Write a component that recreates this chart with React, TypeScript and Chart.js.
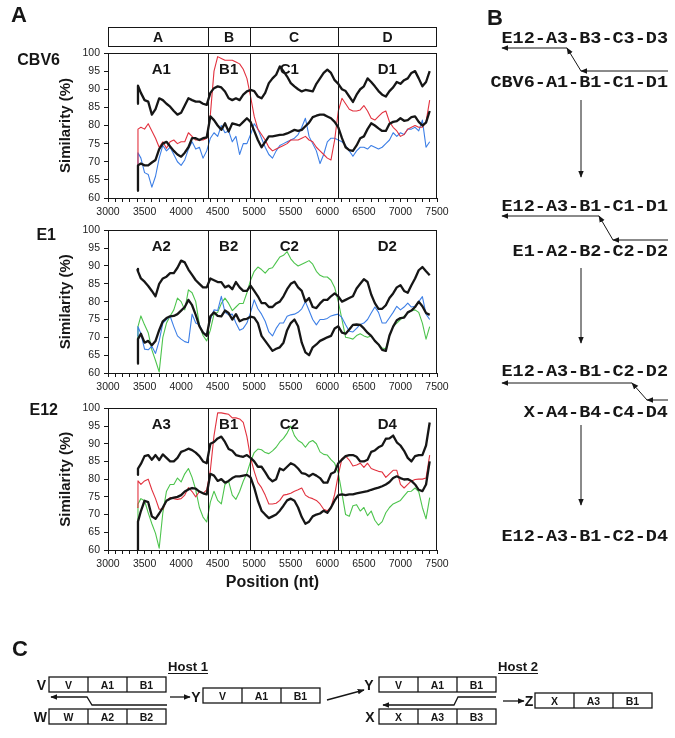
import React, { useEffect, useRef } from 'react';
import { Chart, registerables } from 'chart.js';
Chart.register(...registerables);

// ---------- DATA ----------
const POSITIONS = [3400, 3410, ...Array.from({ length: 80 }, (_, i) => 3450 + i * 50)];
const REGIONS = ['A', 'B', 'C', 'D'];
const BOUNDARIES = [4370, 4940, 6150];
const LABEL_X = [3730, 4650, 5480, 6820];
const CBV6_LABELS = ['A1', 'B1', 'C1', 'D1'];
const E1_LABELS = ['A2', 'B2', 'C2', 'D2'];
const E12_LABELS = ['A3', 'B1', 'C2', 'D4'];
const Y_TICKS = [60, 65, 70, 75, 80, 85, 90, 95, 100];

const CBV6_TOP = [86, 91, 89, 87, 86.6, 83, 84.5, 87.5, 87, 86, 85.2,
  84, 83, 83.5, 85.5, 87.5, 87, 86.6, 86.6, 86, 85.7,
  89, 90.3, 90.8, 90.5, 89.4, 87.5, 87, 87.5, 87, 88.5,
  89.4, 89.8, 89.5, 88, 87.5, 89, 91.7, 93, 94, 96.3,
  95, 93.5, 91.7, 90.8, 90, 89.4, 89.8, 89.6, 89.4, 91.5,
  93, 94.5, 95.4, 94.5, 92.5, 91.5, 90, 89.5, 88, 86.5,
  88.5, 90, 90.8, 93, 92, 90.8, 89.5, 88.5, 88, 89.5,
  90.5, 92, 91.5, 92.5, 93, 94.5, 95, 93, 90.8, 92, 95];
const CBV6_LOW = [62, 69, 69.5, 69, 69, 69.8, 70.5, 73.5, 75, 75.5, 74.2,
  73, 72, 71.4, 72.5, 74, 76.5, 76.5, 76, 76.5, 76.7,
  82.5, 81.5, 80, 78.8, 80.6, 78.3, 80.6, 80.3, 80, 81,
  82, 81, 78.5, 76, 74, 75.5, 77, 77, 77.2, 77.4,
  77.5, 77.8, 78.3, 78.8, 78.5, 78.8, 79.8, 80.8, 82.3, 82.7,
  83, 83, 82.5, 82, 81, 79.5, 76.5, 74, 73.2, 73,
  74.5, 76.5, 77, 79, 80.6, 80, 79.2, 78.5, 78.5, 80.5,
  81, 81.2, 82, 81.3, 81.5, 82.3, 82.5, 81, 80, 80.8, 84];
const CBV6_RED = [67, 79, 79.5, 79, 80.5, 78.5, 76.5, 74, 75.5, 73.7, 75.5,
  76, 75, 75.5, 75.5, 78, 77, 76, 76, 76, 76.5,
  83, 95, 99, 98.5, 98, 98, 98, 97.5, 97, 95.5,
  93, 88, 82.5, 79, 77.5, 76, 74, 73, 73.5, 74,
  74.5, 75, 76, 76, 76, 76.5, 77, 76, 75.5, 74,
  73, 72, 71, 70.5, 76, 84, 87.5, 86, 84.5, 84,
  84, 84.3, 85.5, 84, 82, 81.5, 82.5, 83.5, 84, 81,
  79.5, 78.5, 77, 77.5, 79, 79.5, 80, 79.5, 79.5, 81, 87];
const CBV6_BLUE = [68, 72.5, 71, 67, 66.5, 63, 66, 71, 74.5, 73, 74,
  72, 70, 69, 70.5, 73.5, 75.5, 73.5, 74, 71, 73,
  76.5, 78, 77, 80, 78, 78.5, 75.5, 77, 72, 75,
  75, 77.5, 80.5, 79, 76.5, 74, 72, 71, 73, 74.5,
  75, 75.5, 76, 76.5, 77.5, 79.5, 82, 77, 75, 73,
  69.5, 72, 75.5, 76.5, 76.5, 76, 75.5, 74.5, 73, 71.5,
  73, 74, 74, 73.5, 74.5, 74, 73.5, 74, 75, 76,
  78, 77, 78, 77.5, 79, 79, 79.5, 78.5, 81.5, 74, 75.5];

const E1_TOP = [89.2, 88.5, 86.5, 85.6, 84.4, 83, 81.5, 85, 86.5, 87, 88,
  88, 89.5, 91.5, 91, 89, 87.5, 86, 85, 84, 84,
  86.5, 86, 85.5, 85.5, 84, 84.5, 83.5, 85.5, 84, 83,
  83, 84.5, 83, 81.5, 79.6, 79.6, 78.5, 78.5, 79.5, 80,
  81.5, 83.5, 85, 85.6, 84, 83, 80, 81, 78.5, 78.2,
  79.5, 80.5, 80.5, 81.5, 82.3, 81.5, 80, 80.5, 81, 81.5,
  83.7, 85, 86.3, 85.5, 82, 79.6, 78, 78, 79, 81,
  82.3, 84, 84.6, 83, 82.5, 84.6, 86.5, 88.8, 89.7, 88.5, 87.4];
const E1_LOW = [62.6, 69.5, 71, 68.5, 69, 67.8, 69, 72, 74.5, 75.4, 75.9,
  76, 76.5, 77.5, 78.5, 80.5, 79, 76.3, 73.1, 71.3, 70.4,
  75.9, 77, 76, 75.9, 77.5, 76.8, 75, 76.5, 74.5, 75,
  75.2, 75.8, 75.5, 74, 70.4, 69, 67.6, 66.2, 66.8, 67.2,
  68.5, 72, 74, 75, 73.1, 68.5, 65.8, 65, 67.2, 68,
  69, 69.5, 70, 70.4, 72.5, 73.1, 71.3, 71, 72.2, 73.5,
  73.6, 73.5, 72.5, 71.3, 70.4, 69, 68, 66.5, 66.2, 70.5,
  73, 74.8, 75.4, 75.5, 77, 77.5, 78.5, 80, 78.7, 76.8, 76.3];
const E1_BLUE = [70.4, 73, 71, 66.7, 66.5, 67.5, 65.5, 69, 74, 75, 75.9,
  73, 70.4, 69.5, 68.8, 68.5, 76.5, 74, 73.5, 71.3, 70.8,
  75, 77.7, 77.5, 81.5, 77, 76.3, 76.5, 74, 72, 72.5,
  74, 77, 80.5, 78, 76.5, 74.5, 71.5, 70.4, 72.5, 74,
  74, 75.9, 76.3, 76.5, 77, 78, 80, 77.5, 75, 73.5,
  75, 75, 75.3, 76, 76.3, 76.5, 75.5, 73.5, 71.7, 71.5,
  72.5, 73.6, 74, 75, 76.8, 78.5, 77, 74, 74, 75.5,
  77, 78.7, 77.7, 78.5, 79.6, 78.5, 78.7, 80, 81.4, 76.5, 75];
const E1_GREEN = [70, 73, 76, 73.5, 71.3, 66.5, 63.5, 60.3, 70, 74, 76,
  77.7, 81, 80, 77.7, 83.3, 82.5, 80, 73.5, 70.5, 69,
  72, 76.5, 77, 79.5, 81, 79.5, 77.5, 78.5, 79.5, 79.5,
  82.5, 86, 88.5, 89.7, 89, 88, 89.2, 89.5, 91, 92.5,
  93, 94, 92, 90.8, 90, 90.5, 91, 91.5, 90.5, 88.5,
  87.4, 86.9, 86.9, 86, 84, 80, 75, 70, 69.8, 69.5,
  70.5, 71, 70.4, 70, 70.4, 69, 68, 67, 66.8, 70.4,
  73.1, 74, 75, 75.9, 76.8, 77.5, 77.7, 77, 74, 69.5, 73];

const E12_TOP = [81.2, 83, 84.3, 86.5, 86.8, 85.5, 86.8, 85.4, 87, 86, 85,
  85, 86, 87.7, 88.1, 88.6, 88.2, 87.5, 86.5, 85, 84.5,
  90, 90.5, 91.5, 92, 90.5, 88.5, 88, 86.8, 86.5, 86.3,
  86.8, 86, 85, 83.5, 83.5, 82, 80.3, 79.4, 80, 83,
  82.5, 83.5, 84.5, 84, 83, 81.7, 81.5, 80.8, 81.5, 81,
  80.3, 79, 79, 81.5, 82, 84.5, 85.5, 86.5, 86.8, 86.8,
  86.3, 85, 85, 85.5, 87.7, 88.1, 89, 89.5, 91.4, 91.5,
  92.3, 90.4, 89.5, 88, 86, 85, 86.5, 86.8, 86.8, 89.5, 96];
const E12_LOW = [60, 68, 71, 73.9, 73.5, 69.5, 68.8, 70.3, 72, 73.9, 74.5,
  74.8, 75, 75.5, 76.5, 77.1, 77.5, 77.3, 76.5, 76, 75.7,
  81.5, 81, 79.5, 80, 79, 79.5, 80.3, 80.8, 80.8, 81,
  81.2, 80.5, 77.6, 73.9, 71.1, 70, 69, 69.5, 70, 71.1,
  72.5, 74, 74.5, 73.9, 72, 69.3, 67.4, 68, 69.5, 70,
  70.3, 71.1, 70.5, 72, 74, 75.5, 75.7, 75.5, 75.7, 75.7,
  76, 76.2, 76.4, 76.6, 77, 77.3, 77.6, 78, 78.5, 79.2,
  80.3, 80.8, 80.3, 79.9, 80, 79.5, 78.5, 77, 76.6, 78.5, 85];
const E12_RED = [72, 79.5, 78.5, 79.5, 80, 77, 74.5, 71.5, 71.5, 73.9, 74.8,
  74.5, 74.3, 74.5, 75.5, 77.6, 76.5, 75, 76.5, 76, 77,
  82.5, 92.3, 98.7, 98.7, 98.5, 98.3, 97.3, 97.3, 97, 96,
  92, 86, 82.2, 79, 77.6, 75.5, 73, 73, 73.2, 74,
  75.5, 75.7, 76, 76.6, 77, 77.5, 75.5, 74.8, 74.5, 74,
  73, 71.5, 71.1, 72, 75.7, 81.2, 85.8, 86.5, 85.4, 83.7,
  84, 84.5, 83.3, 84.5, 83, 82.6, 82.2, 82, 80.5, 81.5,
  82.5, 82.5, 78.5, 77.5, 78.5, 79.5, 79.9, 80, 80, 80.3, 86.8];
const E12_GREEN = [66.5, 73, 74.5, 73.9, 70.5, 67.4, 64.7, 60.5, 70.5, 76.6, 78.5,
  78.5, 80.3, 79.2, 81.5, 83, 80.5, 77, 72, 69.3, 67.9,
  73.5, 76.6, 74, 73, 78.5, 79.4, 75.5, 74.3, 76.5, 79.4,
  81.7, 85, 87.5, 88.5, 88.3, 87.5, 87.2, 88, 89, 90.5,
  91.5, 93, 95, 92.3, 90.9, 90.3, 89, 90.4, 90.9, 90,
  87.7, 87, 86.8, 85.5, 84.5, 81.7, 76, 70, 69.5, 72.5,
  72.8, 71, 72, 69.7, 71, 68.4, 67, 68, 70.5, 72,
  73, 73.5, 74, 75.3, 76.5, 76.6, 77.5, 76.5, 72, 68.8, 74.8];

// Panel B
const B_LINES = ['E12-A3-B3-C3-D3', 'CBV6-A1-B1-C1-D1', 'E12-A3-B1-C1-D1', 'E1-A2-B2-C2-D2',
  'E12-A3-B1-C2-D2', 'X-A4-B4-C4-D4', 'E12-A3-B1-C2-D4'];

// ---------- STYLE ----------
const BLACK = '#161616';
const RED = '#e2323f';
const BLUE = '#3d7fe6';
const GREEN = '#4dc44d';
const SANS = '"Liberation Sans", Arial, sans-serif';
const MONO = '"Liberation Mono", "Courier New", monospace';

const regionPlugin = {
  id: 'regions',
  afterDatasetsDraw(chart: any, _a: any, opts: any) {
    const { ctx, chartArea: a, scales } = chart;
    const x = scales.x;
    ctx.save();
    ctx.strokeStyle = BLACK;
    ctx.lineWidth = 1;
    BOUNDARIES.forEach((b) => {
      const px = Math.round(x.getPixelForValue(b)) + 0.5;
      ctx.beginPath();
      ctx.moveTo(px, a.top);
      ctx.lineTo(px, a.bottom);
      ctx.stroke();
    });
    ctx.strokeRect(Math.round(a.left) + 0.5, Math.round(a.top) + 0.5, Math.round(a.width) - 1, Math.round(a.height));
    ctx.fillStyle = BLACK;
    ctx.font = 'bold 15px ' + SANS;
    ctx.textAlign = 'center';
    ctx.textBaseline = 'middle';
    (opts.labels || []).forEach((t: string, i: number) => {
      ctx.fillText(t, x.getPixelForValue(LABEL_X[i]), a.top + 17);
    });
    if (opts.header) {
      const top = Math.round(a.top) - 26 + 0.5;
      const h = 19;
      ctx.strokeRect(Math.round(a.left) + 0.5, top, Math.round(a.width) - 1, h);
      BOUNDARIES.forEach((b) => {
        const px = Math.round(x.getPixelForValue(b)) + 0.5;
        ctx.beginPath();
        ctx.moveTo(px, top);
        ctx.lineTo(px, top + h);
        ctx.stroke();
      });
      const edges = [3000, ...BOUNDARIES, 7500];
      ctx.font = 'bold 14px ' + SANS;
      REGIONS.forEach((r, i) => {
        const cx = (x.getPixelForValue(edges[i]) + x.getPixelForValue(edges[i + 1])) / 2;
        ctx.fillText(r, cx, top + h / 2 + 1);
      });
    }
    ctx.restore();
  },
};

type Series = { data: number[]; color: string; width: number };

function SimChart(props: { series: Series[]; labels: string[]; header?: boolean; xTitle?: string; top: number; height: number; padTop: number; xHeight: number }) {
  const ref = useRef<HTMLCanvasElement>(null);
  useEffect(() => {
    const tickFont = { family: SANS, size: 10.5 };
    const chart = new Chart(ref.current as HTMLCanvasElement, {
      type: 'line',
      data: {
        datasets: props.series.map((s) => ({
          data: POSITIONS.map((p, i) => ({ x: p, y: s.data[i] })),
          borderColor: s.color,
          borderWidth: s.width,
          pointRadius: 0,
          tension: 0,
          fill: false,
          borderJoinStyle: 'round' as const,
        })),
      },
      options: {
        animation: false,
        responsive: false,
        maintainAspectRatio: false,
        layout: { padding: { top: props.padTop, right: 20, left: 0, bottom: 0 } },
        plugins: {
          legend: { display: false },
          tooltip: { enabled: false },
          regions: { labels: props.labels, header: !!props.header },
        } as any,
        scales: {
          x: {
            type: 'linear',
            min: 3000,
            max: 7500,
            ticks: {
              stepSize: 100,
              autoSkip: false,
              maxRotation: 0,
              minRotation: 0,
              padding: 4,
              color: '#222',
              font: tickFont,
              callback: (v: any) => (Number(v) % 500 === 0 ? String(v) : ''),
            },
            grid: { drawOnChartArea: false, drawTicks: true, tickLength: 4, color: BLACK },
            border: { display: true, color: BLACK, width: 1 },
            title: props.xTitle
              ? { display: true, text: props.xTitle, color: BLACK, font: { family: SANS, size: 16, weight: 'bold' }, padding: 0 }
              : { display: false },
            afterFit: (s: any) => { s.height = props.xHeight; },
          },
          y: {
            min: 60,
            max: 100,
            afterBuildTicks: (s: any) => { s.ticks = Y_TICKS.map((v) => ({ value: v })); },
            ticks: { padding: 4, color: '#222', font: tickFont, callback: (v: any) => String(v) },
            grid: { drawOnChartArea: false, drawTicks: true, tickLength: 4, color: BLACK },
            border: { display: true, color: BLACK, width: 1 },
            title: { display: true, text: 'Similarity (%)', color: BLACK, font: { family: SANS, size: 15, weight: 'bold' }, padding: 0 },
            afterFit: (s: any) => { s.width = 51; },
          },
        },
      } as any,
      plugins: [regionPlugin],
    });
    return () => chart.destroy();
  }, []);
  return (
    <canvas
      ref={ref}
      width={400}
      height={props.height}
      style={{ position: 'absolute', left: 57, top: props.top, width: 400, height: props.height }}
    />
  );
}

const T = (p: any) => <text fontFamily={SANS} fontWeight="bold" fill={BLACK} {...p} />;

function Box(props: { x: number; y: number; cells: string[] }) {
  const w = 117;
  const cw = w / 3;
  return (
    <g>
      <rect x={props.x} y={props.y} width={w} height={15} fill="none" stroke={BLACK} strokeWidth={1.3} />
      <line x1={props.x + cw} y1={props.y} x2={props.x + cw} y2={props.y + 15} stroke={BLACK} strokeWidth={1.3} />
      <line x1={props.x + 2 * cw} y1={props.y} x2={props.x + 2 * cw} y2={props.y + 15} stroke={BLACK} strokeWidth={1.3} />
      {props.cells.map((c, i) => (
        <T key={i} x={props.x + cw * i + cw / 2} y={props.y + 11.5} fontSize={10.5} textAnchor="middle">{c}</T>
      ))}
    </g>
  );
}

function Arrow(props: { x1: number; y1: number; x2: number; y2: number; w?: number }) {
  return <line x1={props.x1} y1={props.y1} x2={props.x2} y2={props.y2} stroke={BLACK} strokeWidth={props.w || 1} markerEnd="url(#ah)" />;
}

function Overlay() {
  const bY = [43, 87, 211, 256, 376, 417, 541];
  const charW = 11.1;
  return (
    <svg width={675} height={738} style={{ position: 'absolute', left: 0, top: 0 }}>
      <defs>
        <marker id="ah" viewBox="0 0 10 10" refX="9" refY="5" markerWidth="7" markerHeight="7" markerUnits="userSpaceOnUse" orient="auto">
          <path d="M0,1 L10,5 L0,9 z" fill={BLACK} />
        </marker>
      </defs>
      {/* Panel A labels */}
      <T x={11} y={22} fontSize={22}>A</T>
      <T x={60} y={65} fontSize={16} textAnchor="end">CBV6</T>
      <T x={56} y={240} fontSize={16} textAnchor="end">E1</T>
      <T x={58} y={415} fontSize={16} textAnchor="end">E12</T>

      {/* Panel B */}
      <T x={487} y={25} fontSize={22}>B</T>
      {B_LINES.map((s, i) => (
        <text key={i} x={668 - s.length * charW} y={bY[i]} fontFamily={MONO} fontWeight="bold" fontSize={16.5}
          textLength={s.length * charW} lengthAdjust="spacingAndGlyphs" fill={BLACK}>{s}</text>
      ))}
      <Arrow x1={668} y1={71} x2={581} y2={71} />
      <Arrow x1={581} y1={71} x2={567} y2={48} />
      <Arrow x1={567} y1={48} x2={502} y2={48} />
      <Arrow x1={581} y1={100} x2={581} y2={177} />
      <Arrow x1={668} y1={240} x2={613} y2={240} />
      <Arrow x1={613} y1={240} x2={599} y2={216} />
      <Arrow x1={599} y1={216} x2={502} y2={216} />
      <Arrow x1={581} y1={268} x2={581} y2={343} />
      <Arrow x1={668} y1={400} x2={647} y2={400} />
      <Arrow x1={647} y1={400} x2={632} y2={383} />
      <Arrow x1={632} y1={383} x2={502} y2={383} />
      <Arrow x1={581} y1={425} x2={581} y2={505} />

      {/* Panel C */}
      <T x={12} y={656} fontSize={22}>C</T>
      <T x={188} y={671} fontSize={12} textAnchor="middle" textLength={40} lengthAdjust="spacingAndGlyphs">Host 1</T>
      <line x1={168} y1={673.5} x2={208} y2={673.5} stroke={BLACK} strokeWidth={1.2} />
      <T x={518} y={671} fontSize={12} textAnchor="middle" textLength={40} lengthAdjust="spacingAndGlyphs">Host 2</T>
      <line x1={498} y1={673.5} x2={538} y2={673.5} stroke={BLACK} strokeWidth={1.2} />

      <T x={46} y={690} fontSize={14} textAnchor="end">V</T>
      <Box x={49} y={677} cells={['V', 'A1', 'B1']} />
      <polyline points="167,705 92,705 87,697 51,697" fill="none" stroke={BLACK} strokeWidth={1.3} markerEnd="url(#ah)" />
      <T x={47} y={722} fontSize={14} textAnchor="end">W</T>
      <Box x={49} y={709} cells={['W', 'A2', 'B2']} />
      <Arrow x1={170} y1={697} x2={190} y2={697} w={1.3} />
      <T x={196} y={702} fontSize={14} textAnchor="middle">Y</T>
      <Box x={203} y={688} cells={['V', 'A1', 'B1']} />
      <Arrow x1={327} y1={700} x2={364} y2={690} w={1.3} />

      <T x={369} y={690} fontSize={14} textAnchor="middle">Y</T>
      <Box x={379} y={677} cells={['V', 'A1', 'B1']} />
      <polyline points="496,697 458,697 454,705 383,705" fill="none" stroke={BLACK} strokeWidth={1.3} markerEnd="url(#ah)" />
      <T x={370} y={722} fontSize={14} textAnchor="middle">X</T>
      <Box x={379} y={709} cells={['X', 'A3', 'B3']} />
      <Arrow x1={503} y1={701} x2={524} y2={701} w={1.3} />
      <T x={529} y={706} fontSize={14} textAnchor="middle">Z</T>
      <Box x={535} y={693} cells={['X', 'A3', 'B1']} />
    </svg>
  );
}

export default function App() {
  return (
    <div style={{ position: 'absolute', left: 0, top: 0, width: 675, height: 738, background: '#fff', overflow: 'hidden' }}>
      <SimChart
        top={22} height={198} padTop={31} xHeight={22} header labels={CBV6_LABELS}
        series={[
          { data: CBV6_TOP, color: BLACK, width: 2.3 },
          { data: CBV6_LOW, color: BLACK, width: 2.3 },
          { data: CBV6_RED, color: RED, width: 1.1 },
          { data: CBV6_BLUE, color: BLUE, width: 1.1 },
        ]}
      />
      <SimChart
        top={220} height={175} padTop={8} xHeight={22} labels={E1_LABELS}
        series={[
          { data: E1_TOP, color: BLACK, width: 2.3 },
          { data: E1_LOW, color: BLACK, width: 2.3 },
          { data: E1_BLUE, color: BLUE, width: 1.1 },
          { data: E1_GREEN, color: GREEN, width: 1.1 },
        ]}
      />
      <SimChart
        top={398} height={194} padTop={8} xHeight={42} labels={E12_LABELS} xTitle="Position (nt)"
        series={[
          { data: E12_TOP, color: BLACK, width: 2.3 },
          { data: E12_LOW, color: BLACK, width: 2.3 },
          { data: E12_RED, color: RED, width: 1.1 },
          { data: E12_GREEN, color: GREEN, width: 1.1 },
        ]}
      />
      <Overlay />
    </div>
  );
}
